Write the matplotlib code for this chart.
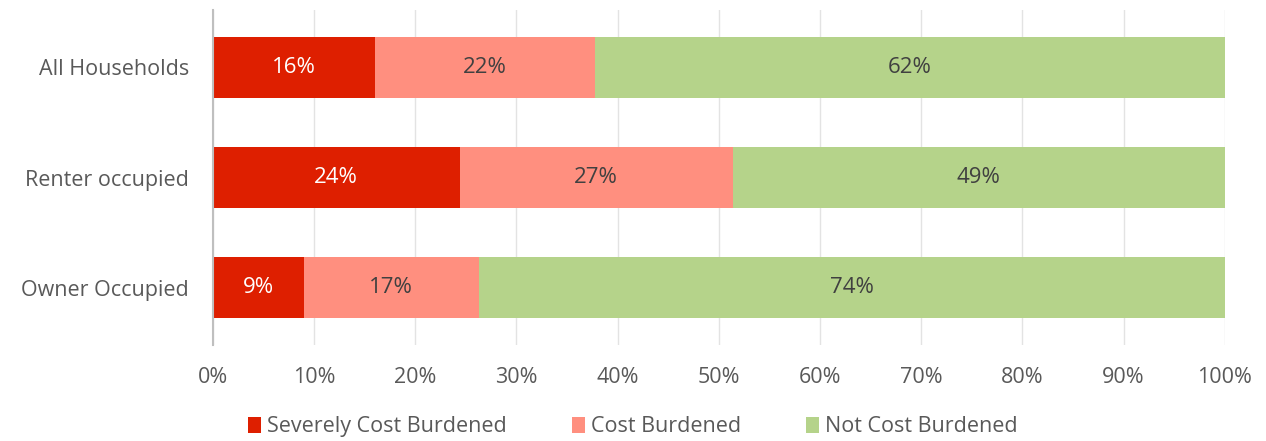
import numpy as np
import matplotlib.pyplot as plt

plt.rcParams['font.family'] = ['Open Sans', 'DejaVu Sans']

categories = ["All Households", "Renter occupied", "Owner Occupied"]
severe = [16.0, 24.4, 9.0]
burdened = [21.8, 27.0, 17.3]
not_burdened = [62.2, 48.6, 73.7]
series_names = ["Severely Cost Burdened", "Cost Burdened", "Not Cost Burdened"]
colors = ['#DE1F00', '#FF8F7F', '#B5D38A']
label_colors = ['white', '#404040', '#404040']

fig = plt.figure(figsize=(12.66, 4.41), dpi=100)
ax = fig.add_axes([0.168, 0.218, 0.7995, 0.759])

y = np.arange(len(categories))
left = np.zeros(len(categories))
for vals, name, col, tcol in zip([severe, burdened, not_burdened], series_names, colors, label_colors):
    vals = np.array(vals)
    ax.barh(y, vals, left=left, height=0.555, color=col, label=name, zorder=3)
    for yi, l, v in zip(y, left, vals):
        ax.text(l + v / 2, yi, f"{v:.0f}%", ha='center', va='center', color=tcol, fontsize=16, zorder=4)
    left += vals

ax.set_xlim(0, 100)
ax.set_ylim(2.52, -0.52)
ax.set_xticks(np.arange(0, 101, 10))
ax.set_xticklabels([f"{t}%" for t in range(0, 101, 10)])
ax.set_yticks(y)
ax.set_yticklabels(categories)
ax.tick_params(axis='both', length=0, labelsize=15.5, labelcolor='#595959')
ax.tick_params(axis='x', pad=16)
ax.tick_params(axis='y', pad=17)
ax.grid(axis='x', color='#E3E3E3', linewidth=1, zorder=0)
for s in ['top', 'right', 'bottom']:
    ax.spines[s].set_visible(False)
ax.spines['left'].set_color('#BFBFBF')
ax.spines['left'].set_linewidth(1.5)
ax.spines['left'].set_zorder(5)

leg = fig.legend(*ax.get_legend_handles_labels(), loc='center', bbox_to_anchor=(0.5, 0.032), ncol=3,
                 frameon=False, fontsize=15.5, handlelength=0.6, handleheight=0.8, handletextpad=0.3,
                 columnspacing=3.0)
for t in leg.get_texts():
    t.set_color('#595959')

fig.savefig('out.png', dpi=100)
